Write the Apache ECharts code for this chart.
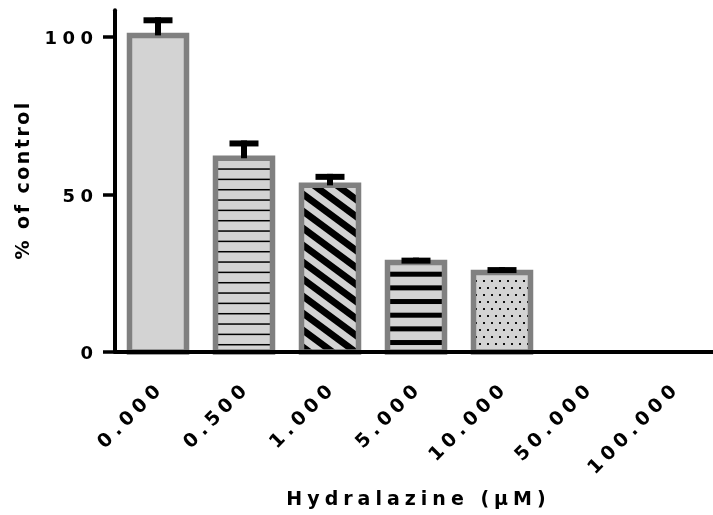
<!DOCTYPE html>
<html>
<head>
<meta charset="utf-8">
<script src="https://cdn.jsdelivr.net/npm/echarts@6/dist/echarts.min.js"></script>
<style>html,body{margin:0;padding:0;background:#fff}#c{width:713px;height:515px}</style>
</head>
<body>
<div id="c"></div>
<script>
// ---- data ----
const categories = ['0.000', '0.500', '1.000', '5.000', '10.000', '50.000', '100.000'];
const meanValues = [100.5, 61.5, 52.9, 28.4, 25.2, 0, 0];
const errorTops = [105.3, 66.2, 55.6, 29.0, 26.0, null, null];
const yTickValues = [0, 50, 100];
const xAxisTitle = 'Hydralazine (µM)';
const yAxisTitle = '% of control';

// ---- styles ----
const FILL = '#d3d3d3';
const EDGE = '#808080';
const FONT = '"DejaVu Sans", Verdana, sans-serif';

function tile(w, h, draw) {
  const c = document.createElement('canvas');
  c.width = w; c.height = h;
  const g = c.getContext('2d');
  g.fillStyle = FILL; g.fillRect(0, 0, w, h);
  g.fillStyle = '#000';
  draw(g, w, h);
  return { image: c, repeat: 'repeat' };
}
const fills = [
  FILL,
  tile(8, 31, g => { [2.97, 13.3, 23.63].forEach(y => g.fillRect(0, y, 8, 1.5)); }),
  tile(23, 17, (g, w, h) => {
    const s = h / w, t = 8.5;
    for (let k = -3; k <= 3; k++) {
      const b = k * h;
      g.beginPath();
      g.moveTo(-10, -10 * s + b); g.lineTo(w + 10, (w + 10) * s + b);
      g.lineTo(w + 10, (w + 10) * s + b + t); g.lineTo(-10, -10 * s + b + t);
      g.closePath(); g.fill();
    }
  }),
  tile(8, 41, g => { [25.7, 12.03, -1.64, 39.36].forEach(y => g.fillRect(0, y, 8, 5)); }),
  tile(8, 14, g => { g.fillStyle = '#111'; g.fillRect(3, 0, 2, 2); g.fillRect(7, 7, 2, 2); g.fillRect(-1, 7, 2, 2); }),
  FILL,
  FILL
];

function spaced(str) {
  const chars = Array.from(str);
  return chars.map((ch, i) => '{' + (i < chars.length - 1 ? 'c' : 'e') + '|' + ch + '}').join('');
}
function richStyle(size, gap, top) {
  const base = { fontSize: size, fontWeight: 'bold', fontFamily: FONT, color: '#000' };
  const t = top || 0;
  return {
    c: Object.assign({}, base, { padding: [t, gap, 0, 0] }),
    e: Object.assign({}, base, { padding: [t, 0, 0, 0] })
  };
}

const chart = echarts.init(document.getElementById('c'), null, { renderer: 'canvas' });

const barData = meanValues.map((v, i) => [i, v]);
const errData = [];
errorTops.forEach((t, i) => { if (t != null) errData.push([i, meanValues[i], t]); });

chart.setOption({
  animation: false,
  backgroundColor: '#fff',
  grid: { left: 115, top: 10.2, width: 602, height: 341.8, containLabel: false, outerBoundsMode: 'none' },
  xAxis: {
    type: 'category',
    data: categories,
    z: 10,
    axisLine: { lineStyle: { color: '#000', width: 4 } },
    axisTick: { alignWithLabel: true, length: 8, lineStyle: { color: '#000', width: 3.5 } },
    axisLabel: {
      interval: 0, rotate: 45, margin: 37,
      formatter: v => spaced(v),
      rich: richStyle(19, 5)
    },
    name: spaced(xAxisTitle),
    nameLocation: 'middle',
    nameGap: 139,
    nameTextStyle: { rich: richStyle(19, 5) }
  },
  yAxis: {
    type: 'value',
    min: 0, max: 108.5, interval: 50,
    z: 10,
    splitLine: { show: false },
    axisLine: { show: true, lineStyle: { color: '#000', width: 4 } },
    axisTick: { show: true, length: 12, customValues: yTickValues, lineStyle: { color: '#000', width: 3.5 } },
    axisLabel: {
      margin: 22, customValues: yTickValues,
      formatter: v => spaced(String(v)),
      rich: richStyle(18, 5.5, 5)
    },
    name: spaced(yAxisTitle),
    nameLocation: 'middle',
    nameGap: 72,
    nameTextStyle: { rich: richStyle(19, 2.5) }
  },
  series: [
    {
      type: 'custom',
      z: 2,
      data: barData,
      renderItem: (params, api) => {
        const i = api.value(0), v = api.value(1);
        if (!(v > 0)) return null;
        const top = api.coord([i, v]);
        const base = api.coord([i, 0]);
        const w = api.size([1, 0])[0] * 0.663;
        return {
          type: 'rect',
          shape: { x: top[0] - w / 2, y: top[1], width: w, height: base[1] - top[1] },
          style: { fill: fills[params.dataIndex], stroke: EDGE, lineWidth: 5.5 }
        };
      }
    },
    {
      type: 'custom',
      z: 5,
      data: errData,
      renderItem: (params, api) => {
        const x = api.value(0), lo = api.value(1), hi = api.value(2);
        const p0 = api.coord([x, lo]);
        const p1 = api.coord([x, hi]);
        const half = 14.5;
        return {
          type: 'group',
          children: [
            { type: 'line', shape: { x1: p0[0], y1: p0[1], x2: p1[0], y2: p1[1] - 3 }, style: { stroke: '#000', lineWidth: 6 } },
            { type: 'line', shape: { x1: p1[0] - half, y1: p1[1], x2: p1[0] + half, y2: p1[1] }, style: { stroke: '#000', lineWidth: 6 } }
          ]
        };
      }
    }
  ]
});
</script>
</body>
</html>
